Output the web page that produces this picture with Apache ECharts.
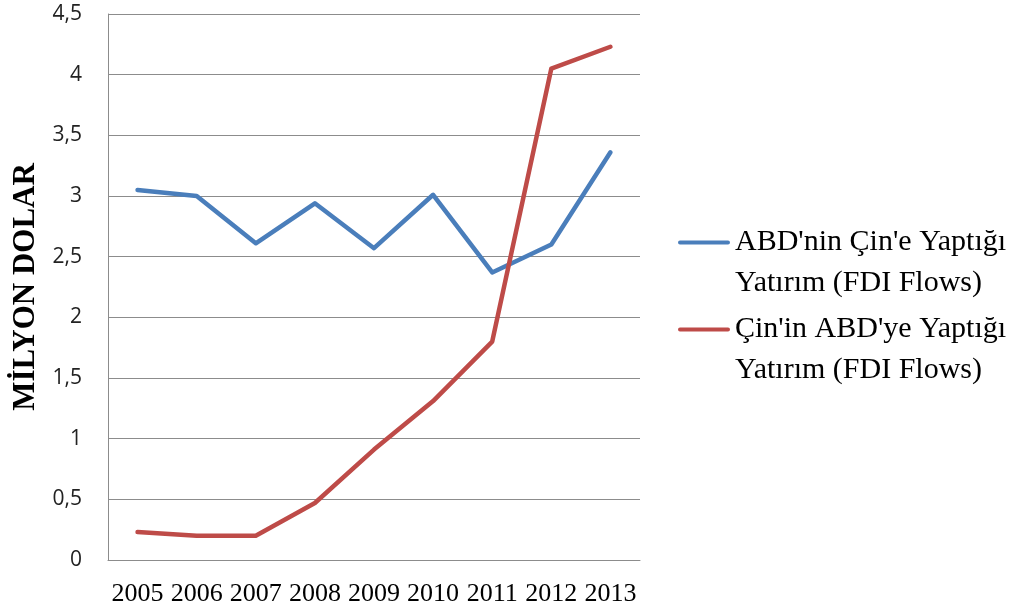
<!DOCTYPE html>
<html>
<head>
<meta charset="utf-8">
<script src="https://cdn.jsdelivr.net/npm/echarts@6/dist/echarts.min.js"></script>
<style>
html,body{margin:0;padding:0;background:#fff;}
#chart{width:1021px;height:610px;}
</style>
</head>
<body>
<div id="chart"></div>
<script>
const years = ['2005','2006','2007','2008','2009','2010','2011','2012','2013'];
const usToChina = [3.05, 3.00, 2.61, 2.94, 2.57, 3.01, 2.37, 2.60, 3.36];
const chinaToUs = [0.23, 0.20, 0.20, 0.47, 0.91, 1.31, 1.80, 4.05, 4.23];
const yTickLabels = ['0','0,5','1','1,5','2','2,5','3','3,5','4','4,5'];
const seriesNames = ["ABD'nin Çin'e Yaptığı\nYatırım (FDI Flows)", "Çin'in ABD'ye Yaptığı\nYatırım (FDI Flows)"];
const yAxisTitle = 'MİLYON DOLAR';

const chart = echarts.init(document.getElementById('chart'));
const gridColor = '#8c8c8c';
chart.setOption({
  animation: false,
  backgroundColor: '#ffffff',
  grid: {left: 108, right: 381, top: 14, bottom: 50, containLabel: false},
  xAxis: {
    type: 'category',
    data: years,
    boundaryGap: true,
    axisLine: {show: true, lineStyle: {color: gridColor, width: 1}},
    axisTick: {show: false},
    axisLabel: {
      interval: 0,
      margin: 21,
      color: '#000',
      fontFamily: 'Liberation Serif',
      fontSize: 26
    },
    splitLine: {show: false}
  },
  yAxis: {
    type: 'value',
    min: 0, max: 4.5, interval: 0.5,
    name: yAxisTitle,
    nameLocation: 'middle',
    nameGap: 65,
    nameRotate: 90,
    nameTextStyle: {
      fontFamily: 'Liberation Serif',
      fontWeight: 'bold',
      fontSize: 31,
      color: '#000'
    },
    axisLine: {show: true, lineStyle: {color: gridColor, width: 1}},
    axisTick: {show: false},
    axisLabel: {
      margin: 26,
      color: '#222',
      fontFamily: 'Open Sans',
      fontSize: 21,
      formatter: function (v) { return yTickLabels[Math.round(v / 0.5)]; }
    },
    splitLine: {show: true, lineStyle: {color: gridColor, width: 1}}
  },
  legend: {
    orient: 'vertical',
    left: 673,
    top: 217,
    itemWidth: 52,
    itemHeight: 45,
    itemGap: 5,
    icon: 'path://M2,0H50A2,2,0,0,1,50,4H2A2,2,0,0,1,2,0ZM0,44.99H0.01V45H0Z',
    itemStyle: {borderWidth: 0},
    textStyle: {
      fontFamily: 'Liberation Serif',
      fontSize: 30,
      lineHeight: 41,
      color: '#000'
    },
    data: seriesNames
  },
  series: [
    {
      name: seriesNames[0],
      type: 'line',
      data: usToChina,
      symbol: 'none',
      lineStyle: {color: '#4A7EBB', width: 4.5, cap: 'round', join: 'round'},
      itemStyle: {color: '#4A7EBB'}
    },
    {
      name: seriesNames[1],
      type: 'line',
      data: chinaToUs,
      symbol: 'none',
      lineStyle: {color: '#BE4B48', width: 4.5, cap: 'round', join: 'round'},
      itemStyle: {color: '#BE4B48'}
    }
  ]
});
</script>
</body>
</html>
